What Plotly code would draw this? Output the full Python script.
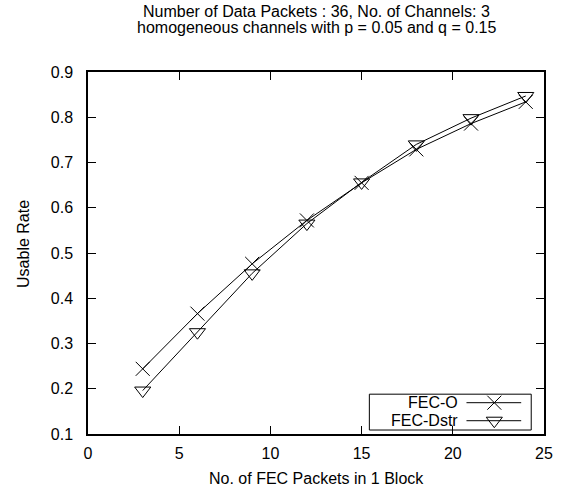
import plotly.graph_objects as go

# FEC packets per block and the resulting usable rate for each scheme
fec_packets = [3, 6, 9, 12, 15, 18, 21, 24]
usable_fec_o = [0.244, 0.366, 0.476, 0.572, 0.655, 0.729, 0.786, 0.834]
usable_fec_dstr = [0.196, 0.325, 0.455, 0.565, 0.656, 0.740, 0.798, 0.847]

series_names = ["FEC-O", "FEC-Dstr"]
series_symbols = ["x-thin-open", "triangle-down-open"]

title_lines = [
    "Number of Data Packets : 36, No. of Channels: 3",
    "homogeneous channels with p = 0.05 and q = 0.15",
]
x_title = "No. of FEC Packets in 1 Block"
y_title = "Usable Rate"

x_ticks = [0, 5, 10, 15, 20, 25]
y_ticks = [0.1, 0.2, 0.3, 0.4, 0.5, 0.6, 0.7, 0.8, 0.9]

FONT = "Liberation Sans, Arial, Helvetica, sans-serif"
FS = 16
INK = "#000000"

fig = go.Figure()

for name, sym, ys in zip(series_names, series_symbols,
                         [usable_fec_o, usable_fec_dstr]):
    fig.add_trace(go.Scatter(
        x=fec_packets, y=ys, mode="lines+markers", name=name,
        line=dict(color=INK, width=1),
        marker=dict(symbol=sym, size=14, color=INK,
                    line=dict(color=INK, width=1)),
        showlegend=False, cliponaxis=False,
    ))

# Key box in the lower right corner: label, then a line sample with marker
key_rows = [0.0865, 0.0367]
key_line = (0.830, 0.950)
key_mark = 0.891
for name, sym, ky in zip(series_names, series_symbols, key_rows):
    fig.add_trace(go.Scatter(
        x=list(key_line), y=[ky, ky], mode="lines",
        line=dict(color=INK, width=1), xaxis="x2", yaxis="y2",
        showlegend=False, hoverinfo="skip",
    ))
    fig.add_trace(go.Scatter(
        x=[key_mark], y=[ky], mode="markers",
        marker=dict(symbol=sym, size=14, color=INK,
                    line=dict(color=INK, width=1)),
        xaxis="x2", yaxis="y2", showlegend=False, hoverinfo="skip",
    ))
    fig.add_annotation(
        x=0.815, y=ky, xref="paper", yref="paper", text=name,
        showarrow=False, xanchor="right", yanchor="middle",
        font=dict(family=FONT, size=FS, color=INK),
    )
fig.add_shape(type="rect", xref="paper", yref="paper",
              x0=0.617, x1=0.972, y0=0.011, y1=0.110,
              line=dict(color=INK, width=1), fillcolor="rgba(0,0,0,0)")

# Two-line heading above the plot frame
for i, line in enumerate(title_lines):
    fig.add_annotation(
        x=0.5, y=1.0, xref="paper", yref="paper", yshift=50 - 16 * i,
        text=line, showarrow=False, xanchor="center", yanchor="bottom",
        font=dict(family=FONT, size=FS, color=INK),
    )

fig.add_annotation(
    x=0.5, y=0, xref="paper", yref="paper", yshift=-55,
    text=x_title, showarrow=False, xanchor="center", yanchor="bottom",
    font=dict(family=FONT, size=FS, color=INK),
)
fig.add_annotation(
    x=0, y=0.525, xref="paper", yref="paper", xshift=-64,
    text=y_title, showarrow=False, textangle=-90,
    xanchor="center", yanchor="middle",
    font=dict(family=FONT, size=FS, color=INK),
)

axis_common = dict(
    showgrid=False, zeroline=False, showline=True, linecolor=INK,
    linewidth=1.5, mirror="allticks", ticks="inside", ticklen=8,
    tickwidth=1, tickcolor=INK,
    tickfont=dict(family=FONT, size=FS, color=INK),
)

fig.update_layout(
    width=565, height=488,
    margin=dict(l=88, r=17, t=72, b=54),
    paper_bgcolor="white", plot_bgcolor="white",
    font=dict(family=FONT, size=FS, color=INK),
    xaxis=dict(range=[0, 25], tickvals=x_ticks,
               ticktext=[str(v) for v in x_ticks],
               ticklabelstandoff=4, **axis_common),
    yaxis=dict(range=[0.1, 0.9], tickvals=y_ticks,
               ticktext=[f"{v:.1f}" for v in y_ticks],
               ticklabelstandoff=10, **axis_common),
    xaxis2=dict(overlaying="x", range=[0, 1], visible=False),
    yaxis2=dict(overlaying="y", range=[0, 1], visible=False),
    showlegend=False,
)

fig.write_html("out.html")
